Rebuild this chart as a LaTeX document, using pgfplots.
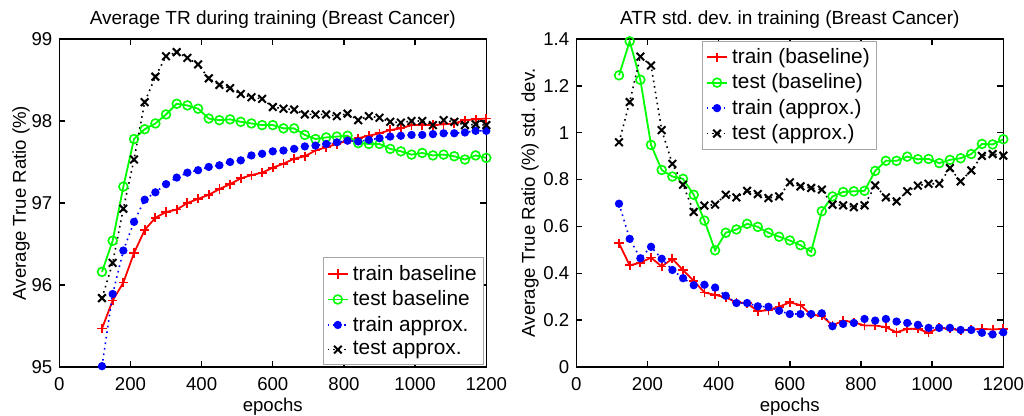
\documentclass[border=0pt]{standalone}
\usepackage{fontspec}
\setmainfont{Liberation Sans}
\usepackage{pgfplots}
\usepackage{pgfplotstable}
\pgfplotsset{compat=1.18}

% average true ratio (%)
\pgfplotstableread{
e    trb   teb   tra   tea
120  95.47 96.16 95.01 95.84
150  95.81 96.54 95.89 96.27
180  96.03 97.20 96.42 96.93
210  96.39 97.78 96.77 97.53
240  96.67 97.90 97.04 98.23
270  96.82 97.97 97.13 98.54
300  96.89 98.08 97.23 98.79
330  96.92 98.21 97.31 98.84
360  97.00 98.19 97.37 98.77
390  97.05 98.15 97.40 98.69
420  97.10 98.03 97.44 98.52
450  97.17 98.01 97.46 98.44
480  97.23 98.02 97.50 98.40
510  97.30 97.99 97.52 98.33
540  97.34 97.97 97.58 98.29
570  97.37 97.95 97.60 98.27
600  97.43 97.95 97.63 98.17
630  97.48 97.91 97.64 98.15
660  97.54 97.91 97.66 98.14
690  97.57 97.83 97.69 98.08
720  97.64 97.78 97.70 98.08
750  97.68 97.80 97.72 98.08
780  97.72 97.81 97.74 98.06
810  97.76 97.82 97.76 98.09
840  97.79 97.73 97.75 98.01
870  97.82 97.72 97.77 98.06
900  97.85 97.72 97.79 98.04
930  97.89 97.66 97.81 97.99
960  97.91 97.63 97.82 97.98
990  97.95 97.59 97.83 98.00
1020 97.95 97.61 97.83 98.00
1050 97.95 97.58 97.84 97.95
1080 97.96 97.59 97.85 98.01
1110 97.97 97.57 97.85 97.99
1140 98.01 97.53 97.86 97.95
1170 98.02 97.58 97.88 97.96
1200 98.03 97.55 97.88 97.95
}\avgtr

% std. dev. of the true ratio
\pgfplotstableread{
e    trb   teb   tra   tea
120  0.528 1.245 0.697 0.959
150  0.434 1.390 0.547 1.131
180  0.445 1.226 0.464 1.325
210  0.467 0.948 0.513 1.287
240  0.429 0.841 0.462 1.011
270  0.462 0.813 0.414 0.867
300  0.413 0.803 0.379 0.778
330  0.368 0.735 0.349 0.662
360  0.318 0.625 0.351 0.689
390  0.308 0.498 0.339 0.693
420  0.297 0.573 0.304 0.735
450  0.276 0.587 0.273 0.724
480  0.272 0.611 0.273 0.752
510  0.238 0.598 0.259 0.738
540  0.243 0.573 0.257 0.721
570  0.257 0.556 0.240 0.728
600  0.276 0.540 0.226 0.788
630  0.264 0.520 0.226 0.771
660  0.223 0.492 0.226 0.764
690  0.219 0.665 0.229 0.757
720  0.177 0.728 0.174 0.693
750  0.198 0.747 0.184 0.690
780  0.191 0.750 0.188 0.682
810  0.177 0.752 0.205 0.690
840  0.177 0.837 0.198 0.775
870  0.170 0.880 0.205 0.724
900  0.148 0.880 0.194 0.707
930  0.163 0.898 0.188 0.750
960  0.163 0.887 0.180 0.774
990  0.146 0.888 0.167 0.782
1020 0.167 0.870 0.167 0.782
1050 0.163 0.884 0.167 0.849
1080 0.156 0.891 0.158 0.792
1110 0.160 0.909 0.158 0.839
1140 0.163 0.952 0.146 0.901
1170 0.160 0.950 0.139 0.909
1200 0.163 0.972 0.148 0.902
}\stdtr

\pgfplotsset{
  mlab/.style={
    width=213.5pt, height=164pt, scale only axis,
    xmin=0, xmax=1200, xtick={0,200,...,1200},
    tick align=inside, major tick length=3pt,
    axis line style={line width=0.7pt},
    every tick/.style={line width=0.7pt, black},
    font=\fontsize{9.3}{11}\selectfont,
    title style={font=\fontsize{9.5}{11}\selectfont, yshift=-4.5pt},
    /pgf/number format/assume math mode=true,
    /pgf/number format/1000 sep={},
    xticklabel style={yshift=-1.5pt},
    xlabel={epochs},
    xlabel style={yshift=3pt},
    legend cell align=left,
    legend style={draw=gray!70, line width=0.5pt, inner sep=1.5pt,
      font=\fontsize{10.4}{12}\selectfont, row sep=-0.3pt},
    legend image code/.code={
      \draw[mark repeat=2, mark phase=2, #1]
        plot coordinates {(0cm,0cm) (0.18cm,0cm) (0.36cm,0cm)};},
  },
  trb/.style={red, line width=0.9pt, mark=+, mark size=2.3pt, mark options={solid, line width=0.9pt}},
  teb/.style={green, line width=0.9pt, mark=o, mark size=2.2pt, mark options={solid, line width=0.8pt}},
  tra/.style={blue, line width=0.8pt, dotted, mark=*, mark size=1.65pt, mark options={solid}},
  tea/.style={black, line width=0.8pt, dotted, mark=x, mark size=2.7pt, mark options={solid, line width=1pt}},
}

\begin{document}
\begin{tikzpicture}
\path[use as bounding box] (-29.65pt,-24.5pt) rectangle (482.35pt,183.5pt);

\begin{axis}[mlab,
  title={Average TR during training (Breast Cancer)},
  ymin=95, ymax=99, ytick={95,96,...,99},
  ylabel={Average True Ratio (\%)},
  ylabel style={yshift=-6pt},
  legend pos=south east,
  legend style={at={(0.995,0.005)}},
]
\addplot[trb] table[x=e, y=trb] {\avgtr};
\addplot[teb] table[x=e, y=teb] {\avgtr};
\addplot[tra] table[x=e, y=tra] {\avgtr};
\addplot[tea] table[x=e, y=tea] {\avgtr};
\legend{train baseline, test baseline, train approx., test approx.}
\end{axis}

\begin{axis}[mlab, at={(258.5pt,0pt)},
  title={ATR std.\ dev.\ in training (Breast Cancer)},
  ymin=0, ymax=1.4, ytick={0,0.2,...,1.4},
  ylabel={Average True Ratio (\%) std.\ dev.},
  ylabel style={yshift=-4.5pt},
  legend style={at={(0.5,0.995)}, anchor=north},
]
\addplot[trb] table[x=e, y=trb] {\stdtr};
\addplot[teb] table[x=e, y=teb] {\stdtr};
\addplot[tra] table[x=e, y=tra] {\stdtr};
\addplot[tea] table[x=e, y=tea] {\stdtr};
\legend{train (baseline), test (baseline), train (approx.), test (approx.)}
\end{axis}
\end{tikzpicture}
\end{document}
